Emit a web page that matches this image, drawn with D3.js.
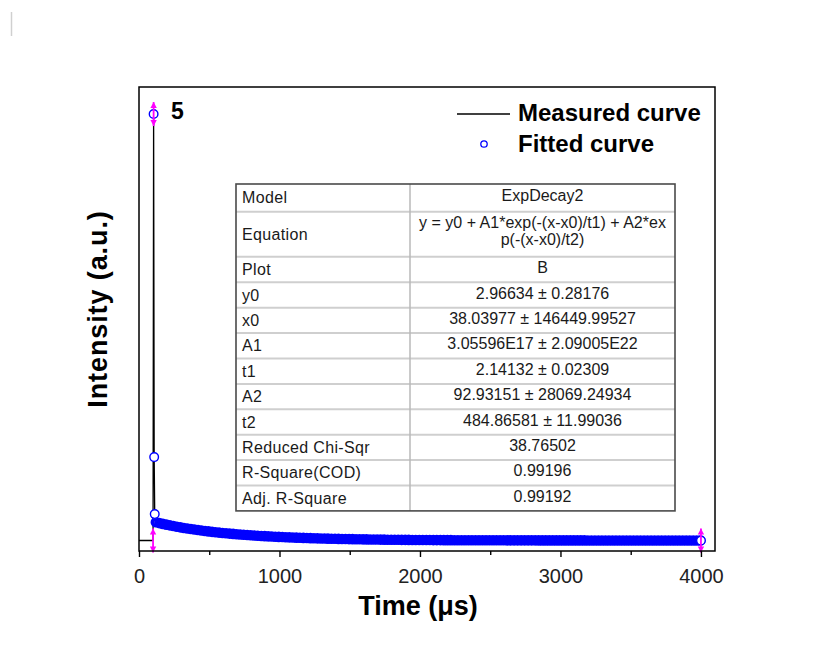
<!DOCTYPE html>
<html><head><meta charset="utf-8">
<script src="https://cdn.jsdelivr.net/npm/d3@7"></script>
<style>
body{margin:0;background:#fff;}
svg{display:block;font-family:"Liberation Sans",Arial,Helvetica,sans-serif;}
</style>
</head><body>
<svg id="chart" width="821" height="652"></svg>
<script>
// ---------------- data ----------------
const xTicks = [0, 1000, 2000, 3000, 4000];
const xMinorTicks = [500, 1500, 2500, 3500];

const measuredTime  = [0, 50, 96, 100, 104, 108, 112, 116, 120, 200, 400, 700, 1000, 1500, 2000, 3000, 4000];
const measuredValue = [3.0, 3.1, 3.0, 3.2, 1956, 385, 124, 88, 86, 76, 52, 32, 20, 10, 5.5, 3.4, 3.2];

const fitPeakTime  = [104, 108, 112, 4000];
const fitPeakValue = [1956, 385, 124, 3.2];

const fitBandTime = d3.range(120, 4000, 25);
const fitBandValue = [
  86.4, 82.7, 79.1, 75.6, 72.4, 69.2, 66.2, 63.4, 60.6, 58.0,
  55.6, 53.2, 50.9, 48.8, 46.7, 44.7, 42.8, 41.0, 39.3, 37.7,
  36.1, 34.6, 33.2, 31.8, 30.5, 29.3, 28.1, 26.9, 25.9, 24.8,
  23.8, 22.9, 22.0, 21.1, 20.3, 19.5, 18.8, 18.1, 17.4, 16.7,
  16.1, 15.5, 15.0, 14.4, 13.9, 13.4, 12.9, 12.5, 12.1, 11.6,
  11.3, 10.9, 10.5, 10.2, 9.9, 9.5, 9.2, 9.0, 8.7, 8.4,
  8.2, 7.9, 7.7, 7.5, 7.2, 7.0, 6.8, 6.6, 6.4, 6.3,
  6.1, 6.0, 5.8, 5.7, 5.5, 5.4, 5.3, 5.2, 5.1, 5.0,
  4.9, 4.8, 4.7, 4.6, 4.6, 4.5, 4.4, 4.4, 4.3, 4.3,
  4.2, 4.2, 4.1, 4.1, 4.0, 4.0, 4.0, 3.9, 3.9, 3.9,
  3.8, 3.8, 3.8, 3.8, 3.7, 3.7, 3.7, 3.7, 3.7, 3.6,
  3.6, 3.6, 3.6, 3.6, 3.6, 3.5, 3.5, 3.5, 3.5, 3.5,
  3.5, 3.5, 3.5, 3.4, 3.4, 3.4, 3.4, 3.4, 3.4, 3.4,
  3.4, 3.4, 3.4, 3.4, 3.3, 3.3, 3.3, 3.3, 3.3, 3.3,
  3.3, 3.3, 3.3, 3.3, 3.3, 3.3, 3.3, 3.3, 3.2, 3.2,
  3.2, 3.2, 3.2, 3.2, 3.2, 3.2
];

const rangeMarkerTime  = [100, 104, 4000];
const rangeMarkerValue = [3.2, 1956, 3.2];

const sampleLabel = "5";
const legendLabels = ["Measured curve", "Fitted curve"];
const xTitle = "Time (\u03bcs)";
const yTitle = "Intensity (a.u.)";

const tableLabels = ["Model", "Equation", "Plot", "y0", "x0", "A1", "t1", "A2", "t2",
  "Reduced Chi-Sqr", "R-Square(COD)", "Adj. R-Square"];
const tableValues = [
  ["ExpDecay2"],
  ["y = y0 + A1*exp(-(x-x0)/t1) + A2*ex", "p(-(x-x0)/t2)"],
  ["B"],
  ["2.96634 \u00b1 0.28176"],
  ["38.03977 \u00b1 146449.99527"],
  ["3.05596E17 \u00b1 2.09005E22"],
  ["2.14132 \u00b1 0.02309"],
  ["92.93151 \u00b1 28069.24934"],
  ["484.86581 \u00b1 11.99036"],
  ["38.76502"],
  ["0.99196"],
  ["0.99192"]
];

// ---------------- layout ----------------
const svg = d3.select("#chart");
const L = 139, R = 715, T = 87, B = 551;
const x = d3.scaleLinear().domain([0, 4100]).range([L, R]);
const y = d3.scaleLinear().domain([-45, 2080]).range([B, T]);

// stray mark top-left
svg.append("line").attr("x1", 11.5).attr("x2", 11.5).attr("y1", 12).attr("y2", 36)
  .attr("stroke", "#d0d0d0").attr("stroke-width", 1.5);

svg.append("defs").append("clipPath").attr("id", "clip")
  .append("rect").attr("x", L).attr("y", T).attr("width", R - L).attr("height", B - T);

const plot = svg.append("g").attr("clip-path", "url(#clip)");

// measured curve
const line = d3.line().x((d, i) => x(measuredTime[i])).y((d, i) => y(measuredValue[i]));
plot.append("path").datum(measuredValue).attr("d", line)
  .attr("fill", "none").attr("stroke", "#000").attr("stroke-width", 1.3);

// fitted curve band (dense overlapping open circles)
plot.append("g").selectAll("circle").data(fitBandValue).join("circle")
  .attr("cx", (d, i) => x(fitBandTime[i])).attr("cy", d => y(d)).attr("r", 3.5)
  .attr("fill", "none").attr("stroke", "#0000ff").attr("stroke-width", 3.6);

// isolated fitted points
plot.append("g").selectAll("circle").data(fitPeakValue).join("circle")
  .attr("cx", (d, i) => x(fitPeakTime[i])).attr("cy", d => y(d)).attr("r", 4.3)
  .attr("fill", "#fff").attr("stroke", "#0000ff").attr("stroke-width", 1.4);

// range markers (magenta)
const mk = svg.append("g").attr("fill", "#ff00ff").attr("stroke", "#ff00ff");
rangeMarkerValue.forEach((v, i) => {
  const cx = x(rangeMarkerTime[i]), cy = y(v), h = 12;
  mk.append("line").attr("x1", cx).attr("x2", cx).attr("y1", cy - h).attr("y2", cy + h)
    .attr("stroke-width", 1.8);
  mk.append("path").attr("stroke", "none")
    .attr("d", `M${cx},${cy - h}L${cx - 3.2},${cy - h + 6}L${cx + 3.2},${cy - h + 6}Z`);
  mk.append("path").attr("stroke", "none")
    .attr("d", `M${cx},${cy + h}L${cx - 3.2},${cy + h - 6}L${cx + 3.2},${cy + h - 6}Z`);
});

// frame
svg.append("rect").attr("x", L).attr("y", T).attr("width", R - L).attr("height", B - T)
  .attr("fill", "none").attr("stroke", "#000").attr("stroke-width", 1.5);

// x axis
const ax = svg.append("g").attr("transform", `translate(0,${B})`)
  .call(d3.axisBottom(x).tickValues(xTicks).tickSize(6).tickPadding(12).tickFormat(d3.format("d")));
ax.select(".domain").remove();
ax.selectAll("line").attr("stroke", "#000").attr("stroke-width", 1.4);
ax.selectAll("text").attr("font-size", 20).attr("fill", "#222")
  .attr("font-family", "'Liberation Sans',Arial,sans-serif");
const axm = svg.append("g").attr("transform", `translate(0,${B})`)
  .call(d3.axisBottom(x).tickValues(xMinorTicks).tickSize(4).tickFormat(""));
axm.select(".domain").remove();
axm.selectAll("line").attr("stroke", "#000").attr("stroke-width", 1.4);

// titles
svg.append("text").attr("x", 418).attr("y", 615).attr("text-anchor", "middle")
  .attr("font-size", 27).attr("font-weight", "bold").attr("fill", "#000").text(xTitle);
svg.append("text").attr("transform", "translate(107,309) rotate(-90)").attr("text-anchor", "middle")
  .attr("font-size", 27).attr("font-weight", "bold").attr("letter-spacing", 0.9).attr("fill", "#000").text(yTitle);

// sample label
svg.append("text").attr("x", 171).attr("y", 119).attr("font-size", 23).attr("font-weight", "bold")
  .attr("fill", "#000").text(sampleLabel);

// legend
svg.append("line").attr("x1", 457).attr("x2", 510).attr("y1", 114).attr("y2", 114)
  .attr("stroke", "#000").attr("stroke-width", 1.5);
svg.append("circle").attr("cx", 484).attr("cy", 144).attr("r", 3.2)
  .attr("fill", "none").attr("stroke", "#0000ff").attr("stroke-width", 1.3);
legendLabels.forEach((t, i) => {
  svg.append("text").attr("x", 518).attr("y", 121 + i * 31).attr("font-size", 24)
    .attr("font-weight", "bold").attr("fill", "#000").text(t);
});

// table
const tx0 = 236, tx1 = 410, tx2 = 675, ty0 = 184;
const rowH = [27.7, 45, 25.6, 25.4, 25.4, 25.4, 25.4, 25.4, 25.4, 25.4, 25.4, 25.4];
const tbl = svg.append("g");
let cy = ty0;
const rowTops = rowH.map(h => { const t = cy; cy += h; return t; });
const ty1 = cy;
tbl.append("rect").attr("x", tx0).attr("y", ty0).attr("width", tx2 - tx0).attr("height", ty1 - ty0)
  .attr("fill", "#fff").attr("stroke", "none");
rowTops.slice(1).forEach(t => {
  tbl.append("line").attr("x1", tx0).attr("x2", tx2).attr("y1", t).attr("y2", t)
    .attr("stroke", "#cfcfcf").attr("stroke-width", 2);
});
tbl.append("line").attr("x1", tx1).attr("x2", tx1).attr("y1", ty0).attr("y2", ty1)
  .attr("stroke", "#b8b8b8").attr("stroke-width", 1.5);
tbl.append("rect").attr("x", tx0).attr("y", ty0).attr("width", tx2 - tx0).attr("height", ty1 - ty0)
  .attr("fill", "none").attr("stroke", "#4a4a4a").attr("stroke-width", 1.6);

tableLabels.forEach((lab, i) => {
  const mid = rowTops[i] + rowH[i] / 2;
  tbl.append("text").attr("x", 242).attr("y", mid + 5.5).attr("font-size", 16)
    .attr("letter-spacing", 0.35).attr("fill", "#1a1a1a").text(lab);
  const vals = tableValues[i];
  vals.forEach((v, j) => {
    const yy = vals.length === 1 ? mid + 3.5 : rowTops[i] + 16 + j * 17;
    tbl.append("text").attr("x", (tx1 + tx2) / 2).attr("y", yy).attr("text-anchor", "middle")
      .attr("font-size", 16).attr("fill", "#1a1a1a").text(v);
  });
});
</script>
</body></html>
